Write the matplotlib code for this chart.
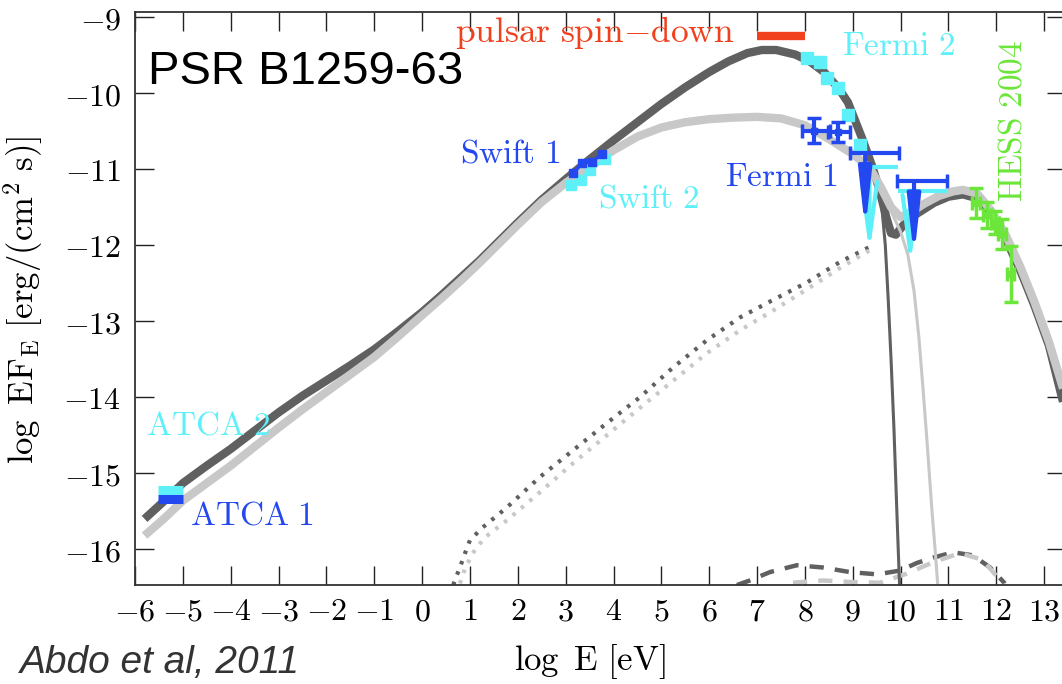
import matplotlib
matplotlib.use("Agg")
import matplotlib.pyplot as plt

plt.rcParams['mathtext.fontset'] = 'cm'
plt.rcParams['font.family'] = ['DejaVu Sans']

# ---------------- data ----------------
xticks = list(range(-6, 14))
yticks = list(range(-16, -8))
xticklabels = [r'$%d$' % v for v in xticks]
yticklabels = [r'$%d$' % v for v in yticks]

dark_x = [-5.8, -5.4, -5.0, -4.5, -4.0, -3.5, -3.0, -2.5, -2.0, -1.5, -1.0, -0.5, 0.0, 0.4,
          0.8, 1.2, 1.6, 2.0, 2.5, 3.0, 3.5, 4.0, 4.5, 5.0, 5.5, 6.0, 6.4, 6.8, 7.1, 7.4,
          7.8, 8.1, 8.4, 8.7, 8.9, 9.0, 9.2, 9.4, 9.55, 9.7, 9.8, 9.9, 10.05, 10.3, 10.7,
          11.0, 11.3, 11.6, 11.9, 12.2, 12.5, 12.8, 13.1, 13.45]
dark_y = [-15.6, -15.37, -15.13, -14.9, -14.68, -14.44, -14.2, -13.98, -13.78, -13.58,
          -13.37, -13.13, -12.88, -12.66, -12.43, -12.2, -11.95, -11.7, -11.4, -11.13,
          -10.87, -10.62, -10.38, -10.14, -9.92, -9.72, -9.58, -9.47, -9.43, -9.43,
          -9.49, -9.58, -9.72, -9.93, -10.12, -10.28, -10.6, -10.95, -11.25, -11.63,
          -11.84, -11.86, -11.74, -11.6, -11.44, -11.36, -11.33, -11.38, -11.58, -11.92,
          -12.33, -12.8, -13.32, -14.2]

gray_x = [-5.8, -5.4, -5.0, -4.5, -4.0, -3.5, -3.0, -2.5, -2.0, -1.5, -1.0, -0.5, 0.0, 0.4,
          0.8, 1.2, 1.6, 2.0, 2.5, 3.0, 3.5, 4.0, 4.5, 5.0, 5.5, 6.0, 6.5, 7.0, 7.5, 8.0,
          8.5, 9.0, 9.2, 9.4, 9.6, 9.8, 10.0, 10.25, 10.5, 10.8, 11.1, 11.3, 11.6, 11.9,
          12.2, 12.5, 12.8, 13.1, 13.45]
gray_y = [-15.82, -15.6, -15.36, -15.13, -14.9, -14.65, -14.4, -14.16, -13.93, -13.7,
          -13.47, -13.2, -12.92, -12.7, -12.47, -12.23, -11.98, -11.73, -11.43, -11.18,
          -10.96, -10.75, -10.57, -10.45, -10.38, -10.34, -10.32, -10.31, -10.33, -10.42,
          -10.6, -10.8, -10.9, -11.03, -11.25, -11.5, -11.63, -11.55, -11.45, -11.35,
          -11.29, -11.27, -11.32, -11.55, -11.87, -12.28, -12.75, -13.27, -14.0]

sync_dark_x = [9.5, 9.6, 9.68, 9.74, 9.8, 9.86, 9.91, 9.95, 9.98]
sync_dark_y = [-11.14, -11.45, -12.0, -12.7, -13.5, -14.4, -15.3, -16.0, -16.5]
sync_gray_x = [9.7, 9.85, 10.0, 10.15, 10.28, 10.38, 10.47, 10.56, 10.65, 10.72, 10.78]
sync_gray_y = [-11.41, -11.62, -11.82, -12.12, -12.6, -13.2, -13.9, -14.65, -15.45, -16.0, -16.5]

ic_dark_x = [0.65, 0.72, 0.79, 0.88, 1.0, 1.27, 1.77, 2.46, 3.15, 3.86, 4.55, 5.24, 5.95,
             6.64, 7.33, 8.04, 8.73, 9.42]
ic_dark_y = [-16.47, -16.35, -16.24, -16.08, -15.88, -15.71, -15.45, -15.05, -14.70, -14.34,
             -14.0, -13.61, -13.25, -12.95, -12.72, -12.49, -12.22, -12.0]
ic_gray_x = [0.79, 0.9, 1.06, 1.3, 1.77, 2.46, 3.15, 3.86, 4.55, 5.25, 5.95, 6.64, 7.33,
             8.04, 8.73, 9.42]
ic_gray_y = [-16.45, -16.25, -16.05, -15.85, -15.62, -15.25, -14.87, -14.5, -14.14, -13.78,
             -13.42, -13.12, -12.86, -12.58, -12.30, -12.04]

dash_dark_x = [6.58, 6.85, 7.27, 7.83, 8.38, 8.94, 9.51, 9.99, 10.34, 10.68, 11.1, 11.51, 11.87, 12.18]
dash_dark_y = [-16.47, -16.41, -16.30, -16.21, -16.24, -16.30, -16.33, -16.28, -16.18, -16.11,
               -16.04, -16.08, -16.24, -16.45]
dash_gray_x = [7.75, 8.38, 8.94, 9.57, 10.13, 10.68, 11.24, 11.72, 12.08, 12.2]
dash_gray_y = [-16.44, -16.41, -16.43, -16.44, -16.32, -16.17, -16.05, -16.14, -16.41, -16.5]

# observations
spin_x = [7.0, 8.0]
spin_y = -9.24

atca1_x = [-5.52, -5.0]
atca1_y = -15.34
atca2_x = [-5.52, -5.0]
atca2_y = -15.22

swift1_x = [3.16, 3.34, 3.55, 3.75]
swift1_y = [-11.05, -10.92, -10.9, -10.8]
swift2_x = [3.12, 3.32, 3.5, 3.82]
swift2_y = [-11.21, -11.14, -11.01, -10.87]

fermi2_x = [8.04, 8.32, 8.46, 8.69, 8.90, 9.15]
fermi2_y = [-9.53, -9.59, -9.80, -9.93, -10.29, -10.68]

fermi1_x = [8.2, 8.7]
fermi1_y = [-10.49, -10.51]
fermi1_xlo = [0.26, 0.22]
fermi1_xhi = [0.32, 0.24]
fermi1_yerr = [0.17, 0.13]

# upper limits: x, y, xmin, xmax, arrow tip
f1_ul_x = [9.26, 10.28]
f1_ul_y = [-10.79, -11.16]
f1_ul_xmin = [8.94, 9.92]
f1_ul_xmax = [9.97, 10.97]
f1_ul_tip = [-11.8, -12.16]

f2_ul_x = [9.35, 10.2]
f2_ul_y = [-10.97, -11.28]
f2_ul_xmin = [9.3, 9.95]
f2_ul_xmax = [9.95, 10.97]
f2_ul_tip = [-12.1, -12.27]

hess_x = [11.58, 11.8, 11.97, 12.12, 12.3]
hess_y = [-11.44, -11.6, -11.7, -11.85, -12.38]
hess_yerr = [0.2, 0.17, 0.15, 0.2, 0.37]
hess_xerr = [0.08, 0.08, 0.08, 0.08, 0.08]

# ---------------- style ----------------
DARK = '#606060'
LIGHT = '#c8c8c8'
CYAN = '#5ef0f8'
BLUE = '#2448f0'
GREEN = '#6ce63a'
RED = '#f0401e'

fig = plt.figure(figsize=(10.62, 6.84), dpi=100)
ax = fig.add_axes([135 / 1062, 99 / 684, 930.7 / 1062, 573 / 684])
ax.set_xlim(-6, 13.45)
ax.set_ylim(-16.47, -8.93)

# model curves
ax.plot(dark_x, dark_y, color=DARK, lw=6, solid_joinstyle='round', solid_capstyle='butt', zorder=2)
ax.plot(gray_x, gray_y, color=LIGHT, lw=6, solid_joinstyle='round', solid_capstyle='butt', zorder=3)
ax.plot(sync_dark_x, sync_dark_y, color=DARK, lw=2.2, zorder=2.5)
ax.plot(sync_gray_x, sync_gray_y, color=LIGHT, lw=2.2, zorder=2.4)
ax.plot(ic_dark_x, ic_dark_y, color=DARK, lw=3, ls=(0, (0.85, 1.8)), dash_capstyle='butt', zorder=2)
ax.plot(ic_gray_x, ic_gray_y, color=LIGHT, lw=3, ls=(0, (0.85, 1.8)), dash_capstyle='butt', zorder=2)
ax.plot(dash_dark_x, dash_dark_y, color=DARK, lw=3.2, ls=(0, (3.2, 2.5)), dash_capstyle='butt', zorder=2)
ax.plot(dash_gray_x, dash_gray_y, color=LIGHT, lw=3.2, ls=(0, (3.2, 2.5)), dash_capstyle='butt', zorder=2)

# spin-down bar
ax.hlines(spin_y, spin_x[0], spin_x[1], color=RED, lw=6, zorder=5)

# ATCA
ax.hlines(atca2_y, atca2_x[0], atca2_x[1], color=CYAN, lw=6.5, zorder=5)
ax.hlines(atca1_y, atca1_x[0], atca1_x[1], color=BLUE, lw=6.5, zorder=5)

# Swift
ax.plot(swift2_x, swift2_y, color=CYAN, lw=2.5, marker='s', ms=7, mec=CYAN, zorder=5)
ax.plot(swift1_x, swift1_y, color=BLUE, lw=2.5, marker='s', ms=6, mec=BLUE, zorder=6)

# Fermi 2 points
ax.plot(fermi2_x, fermi2_y, ls='none', marker='s', ms=8, color=CYAN, zorder=6)

# upper limits
for x, y, x0, x1, t in zip(f2_ul_x, f2_ul_y, f2_ul_xmin, f2_ul_xmax, f2_ul_tip):
    ax.hlines(y, x0, x1, color=CYAN, lw=3, zorder=6)
    ax.annotate('', xy=(x, t), xytext=(x, y),
                arrowprops=dict(arrowstyle='->,head_length=4.0,head_width=0.55',
                                color=CYAN, lw=3, shrinkA=0, shrinkB=0), zorder=6)
for x, y, x0, x1, t in zip(f1_ul_x, f1_ul_y, f1_ul_xmin, f1_ul_xmax, f1_ul_tip):
    ax.errorbar([x], [y], xerr=[[x - x0], [x1 - x]], fmt='none', ecolor=BLUE,
                elinewidth=3, capsize=5, capthick=2.5, zorder=7)
    ax.annotate('', xy=(x, t), xytext=(x, y),
                arrowprops=dict(arrowstyle='-|>,head_length=3.4,head_width=0.38',
                                color=BLUE, lw=3, shrinkA=0, shrinkB=0), zorder=7)

# Fermi 1 points
ax.errorbar(fermi1_x, fermi1_y, xerr=[fermi1_xlo, fermi1_xhi], yerr=fermi1_yerr,
            fmt='s', ms=4, color=BLUE, elinewidth=3, capsize=5, capthick=2.5, zorder=7)

# HESS
ax.errorbar(hess_x, hess_y, xerr=hess_xerr, yerr=hess_yerr, fmt='s', ms=4, color=GREEN,
            elinewidth=2.5, capsize=5, capthick=2.5, zorder=7)

# ---------------- axes ----------------
ax.set_xticks(xticks)
ax.set_xticklabels(xticklabels)
ax.set_yticks(yticks)
ax.set_yticklabels(yticklabels)
ax.tick_params(direction='in', length=14, width=1.0, top=True, right=True,
               labelsize=23, color='#222222')
ax.tick_params(axis='x', pad=8)
ax.tick_params(axis='y', pad=10)
for s in ax.spines.values():
    s.set_linewidth(1.3)
    s.set_color('#333333')

ax.set_xlabel(r'$\log\ \mathrm{E}\ [\mathrm{eV}]$', fontsize=25)
ax.xaxis.set_label_coords(0.489, -0.100)
ax.set_ylabel(r'$\log\ \mathrm{EF}_{\mathrm{E}}\ [\mathrm{erg/(cm^2\ s)}]$', fontsize=25)
ax.yaxis.set_label_coords(-0.097, 0.497)

# labels
tsz = 24
ax.text(6.54, -9.2, r'$\mathrm{pulsar\ spin{-}down}$', color=RED, fontsize=25.5, ha='right', va='center')
ax.text(8.78, -9.37, r'$\mathrm{Fermi\ 2}$', color=CYAN, fontsize=tsz, ha='left', va='center')
ax.text(0.79, -10.79, r'$\mathrm{Swift\ 1}$', color=BLUE, fontsize=tsz, ha='left', va='center')
ax.text(3.68, -11.38, r'$\mathrm{Swift\ 2}$', color=CYAN, fontsize=tsz, ha='left', va='center')
ax.text(6.33, -11.1, r'$\mathrm{Fermi\ 1}$', color=BLUE, fontsize=tsz, ha='left', va='center')
ax.text(-5.77, -14.37, r'$\mathrm{ATCA\ 2}$', color=CYAN, fontsize=tsz, ha='left', va='center')
ax.text(-4.85, -15.55, r'$\mathrm{ATCA\ 1}$', color=BLUE, fontsize=tsz, ha='left', va='center')
ax.text(12.33, -10.36, r'$\mathrm{HESS\ 2004}$', color=GREEN, fontsize=tsz, ha='center',
        va='center', rotation=90)

fig.text(148 / 1062, (684 - 72) / 684, 'PSR B1259-63', fontsize=34, color='black',
         family=['Liberation Sans'], ha='left', va='center')
fig.text(20 / 1062, (684 - 663) / 684, 'Abdo et al, 2011', fontsize=28, color='#333333',
         family=['Liberation Sans'], style='italic', ha='left', va='center')

fig.savefig('out.png', dpi=100)
